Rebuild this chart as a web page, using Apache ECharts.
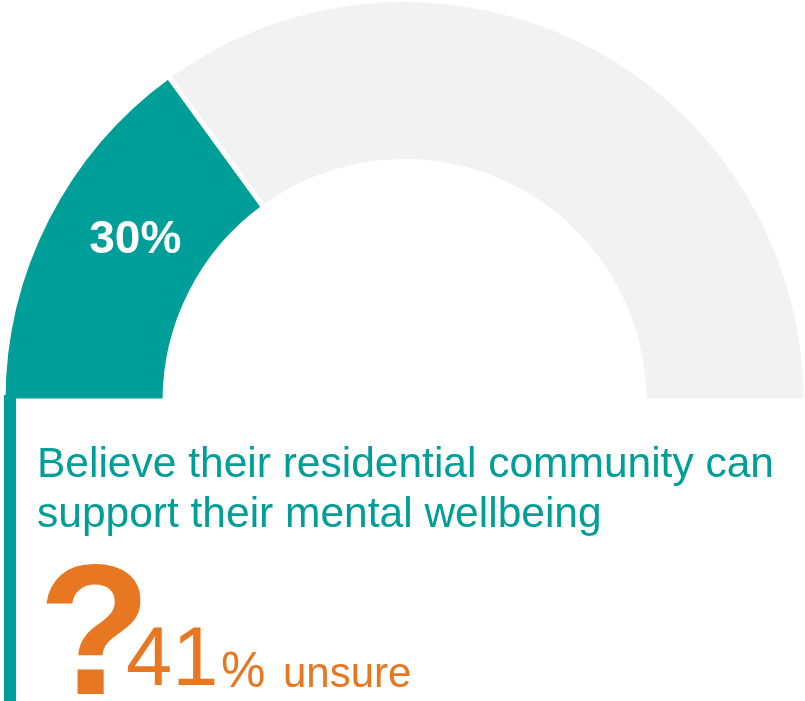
<!DOCTYPE html>
<html>
<head>
<meta charset="utf-8">
<script src="https://cdn.jsdelivr.net/npm/echarts@6/dist/echarts.min.js"></script>
<style>
  html, body { margin: 0; padding: 0; background: #ffffff; }
  #chart { width: 805px; height: 701px; }
</style>
</head>
<body>
<div id="chart"></div>
<script>
// Gauge shares: the believing share, the rest of the half ring, and the hidden lower half
const categories = ['Believe', 'Other'];
const shares = [30, 70];
const unsureShare = 41;
const headline = ['Believe their residential community can', 'support their mental wellbeing'];

const TEAL = '#009E99';
const GREY = '#F2F2F2';
const ORANGE = '#E87722';
const FONT = '"Liberation Sans", Arial, sans-serif';

const total = shares.reduce((a, b) => a + b, 0);
const pieData = categories.map((name, i) => ({
  name: name,
  value: shares[i],
  itemStyle: { color: i === 0 ? TEAL : GREY },
  label: { show: i === 0 }
}));
// the lower half of the ring is left empty
pieData.push({
  name: 'blank',
  value: total,
  itemStyle: { color: 'rgba(0,0,0,0)', borderWidth: 0 },
  label: { show: false }
});

const chart = echarts.init(document.getElementById('chart'), null, { renderer: 'canvas' });
chart.setOption({
  animation: false,
  backgroundColor: '#ffffff',
  series: [{
    type: 'pie',
    silent: true,
    center: [404.5, 401],
    radius: [239.5, 401.5],
    startAngle: 180,
    clockwise: true,
    avoidLabelOverlap: false,
    itemStyle: { borderColor: '#ffffff', borderWidth: 5 },
    label: {
      position: 'inside',
      formatter: p => p.value + '%',
      color: '#ffffff',
      fontFamily: FONT,
      fontWeight: 'bold',
      fontSize: 46
    },
    labelLine: { show: false },
    labelLayout: { dx: 19, dy: -14 },
    data: pieData
  }],
  graphic: [
    { type: 'rect', z: 100, shape: { x: 4, y: 395, width: 12, height: 306 }, style: { fill: TEAL } },
    { type: 'text', z: 100, x: 37, y: 465.5, style: { text: headline[0], fill: TEAL, font: '42.5px ' + FONT, verticalAlign: 'middle', align: 'left' } },
    { type: 'text', z: 100, x: 37, y: 515.5, style: { text: headline[1], fill: TEAL, font: '42.5px ' + FONT, verticalAlign: 'middle', align: 'left' } },
    { type: 'text', z: 100, x: 38, y: 643, style: { text: '?', fill: ORANGE, font: 'bold 185px ' + FONT, verticalAlign: 'middle', align: 'left' } },
    { type: 'text', z: 100, x: 126, y: 662.5, style: { text: String(unsureShare), fill: ORANGE, font: '83px ' + FONT, verticalAlign: 'middle', align: 'left' } },
    { type: 'text', z: 100, x: 221, y: 673, style: { text: '%', fill: ORANGE, font: '50px ' + FONT, verticalAlign: 'middle', align: 'left' } },
    { type: 'text', z: 100, x: 283, y: 675.5, style: { text: 'unsure', fill: ORANGE, font: '42px ' + FONT, verticalAlign: 'middle', align: 'left' } }
  ]
});
</script>
</body>
</html>
